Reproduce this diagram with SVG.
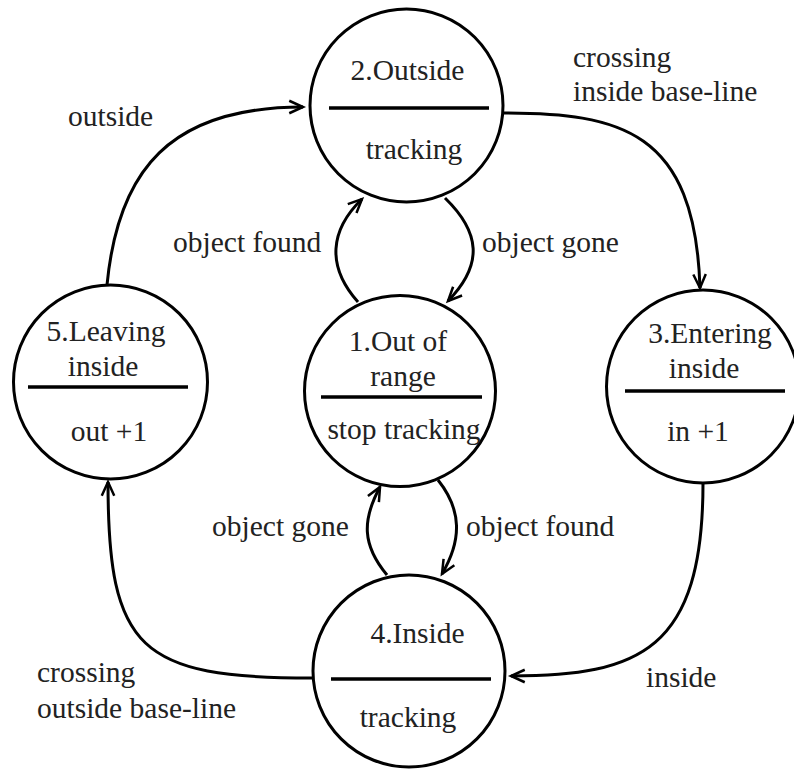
<svg xmlns="http://www.w3.org/2000/svg" width="794" height="769" viewBox="0 0 794 769" font-family="'Liberation Serif', Tinos, 'Times New Roman', Times, 'DejaVu Serif', serif">
<style>
.st{fill:#fff;stroke:#000;stroke-width:3}
.dv{stroke:#000;stroke-width:3.5}
text{font-family:'Liberation Serif',Tinos,'Times New Roman',Times,'DejaVu Serif',serif;font-size:29.5px;fill:#222}
.m{text-anchor:middle}
.c{fill:none;stroke:#000;stroke-width:3}
</style>
<defs>
<marker id="ah" markerUnits="userSpaceOnUse" markerWidth="20" markerHeight="20" refX="0" refY="0" viewBox="-12 -8 14 16" orient="auto">
<path d="M-11,-5 L0,0 L-11,5" fill="none" stroke="#000" stroke-width="2"/>
</marker>
</defs>
<rect width="794" height="769" fill="#fff"/>
<g id="connectors">
<path class="c" d="M107,285 C118,170 170,107 303,107" marker-end="url(#ah)"/>
<path class="c" d="M503,113 C620,113 695,130 700,288" marker-end="url(#ah)"/>
<path class="c" d="M703,483 C703,650 640,676 511,676" marker-end="url(#ah)"/>
<path class="c" d="M312,678 C140,678 108,650 108,482" marker-end="url(#ah)"/>
<path class="c" d="M358,302 C326,266 330,230 362,199" marker-end="url(#ah)"/>
<path class="c" d="M445,198 C480,232 484,264 448,301" marker-end="url(#ah)"/>
<path class="c" d="M387,575 C362,545 362,520 380,487" marker-end="url(#ah)"/>
<path class="c" d="M438,480 C462,510 462,540 442,574" marker-end="url(#ah)"/>
<text x="68" y="126">outside</text>
<text x="573" y="67">crossing</text>
<text x="573" y="101">inside base-line</text>
<text x="173" y="252">object found</text>
<text x="482" y="252">object gone</text>
<text x="212" y="536">object gone</text>
<text x="466" y="536">object found</text>
<text x="37" y="682">crossing</text>
<text x="37" y="718">outside base-line</text>
<text x="646" y="687">inside</text>
</g>
<g id="node2">
<circle class="st" cx="406.5" cy="105.5" r="96.5"/>
<line class="dv" x1="329" y1="108" x2="489" y2="108"/>
<text class="m" x="407.5" y="80">2.Outside</text>
<text class="m" x="414" y="159">tracking</text>
</g>
<g id="node5">
<circle class="st" cx="110.5" cy="382" r="97"/>
<line class="dv" x1="28" y1="387" x2="188" y2="387"/>
<text class="m" x="106" y="341">5.Leaving</text>
<text class="m" x="103" y="376">inside</text>
<text class="m" x="109" y="441">out +1</text>
</g>
<g id="node1">
<circle class="st" cx="400" cy="391" r="95.5"/>
<line class="dv" x1="321" y1="397" x2="482" y2="397"/>
<text class="m" x="398" y="351">1.Out of</text>
<text class="m" x="403" y="386">range</text>
<text class="m" x="404" y="439">stop tracking</text>
</g>
<g id="node3">
<circle class="st" cx="703" cy="386.5" r="96.5"/>
<line class="dv" x1="625" y1="391" x2="785" y2="391"/>
<text class="m" x="710" y="343">3.Entering</text>
<text class="m" x="704" y="378">inside</text>
<text class="m" x="698" y="441">in +1</text>
</g>
<g id="node4">
<circle class="st" cx="409" cy="671" r="96"/>
<line class="dv" x1="331" y1="679" x2="491" y2="679"/>
<text class="m" x="417.5" y="643">4.Inside</text>
<text class="m" x="408" y="727">tracking</text>
</g>
</svg>
